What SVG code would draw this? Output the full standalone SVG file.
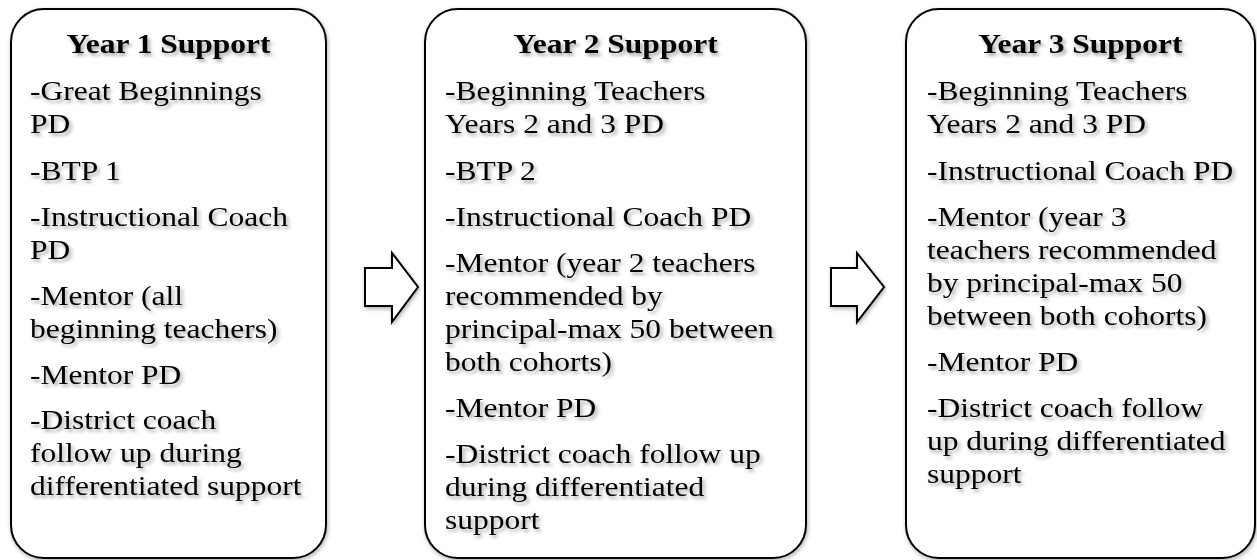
<svg xmlns="http://www.w3.org/2000/svg" width="1257" height="560" viewBox="0 0 1257 560">
<defs>
<filter id="ts" x="-10%" y="-10%" width="130%" height="140%">
<feDropShadow dx="2" dy="3" stdDeviation="1.8" flood-color="#000" flood-opacity="0.35"/>
</filter>
<filter id="bs" x="-5%" y="-5%" width="110%" height="110%">
<feDropShadow dx="1" dy="2" stdDeviation="2" flood-color="#000" flood-opacity="0.3"/>
</filter>
<style>
.box{fill:#fff;stroke:#000;stroke-width:2;}
.arrow{fill:#fff;stroke:#000;stroke-width:2;stroke-linejoin:miter;}
text{font-family:"Liberation Serif","Times New Roman",serif;font-size:28px;fill:#000;}
.title{font-weight:bold;text-anchor:middle;}
</style>
</defs>
<rect width="1257" height="560" fill="#fff"/>
<g id="connectors">
<path class="arrow" filter="url(#bs)" d="M365,268 L392,268 L392,253 L418,287 L392,322 L392,306 L365,306 Z"/>
<path class="arrow" filter="url(#bs)" d="M831,268 L857,268 L857,253 L884,287 L857,322 L857,306 L831,306 Z"/>
</g>
<g id="node-year1">
<rect class="box" filter="url(#bs)" x="11" y="9" width="315" height="549" rx="33" ry="33"/>
<g transform="translate(30 0) scale(1.125 1)" filter="url(#ts)">
<text class="title" x="123.1" y="53">Year 1 Support</text>
<text x="0" y="100">-Great Beginnings</text>
<text x="0" y="133">PD</text>
<text x="0" y="180">-BTP 1</text>
<text x="0" y="226">-Instructional Coach</text>
<text x="0" y="259">PD</text>
<text x="0" y="305">-Mentor (all</text>
<text x="0" y="338">beginning teachers)</text>
<text x="0" y="384">-Mentor PD</text>
<text x="0" y="429">-District coach</text>
<text x="0" y="462">follow up during</text>
<text x="0" y="495">differentiated support</text>
</g>
</g>
<g id="node-year2">
<rect class="box" filter="url(#bs)" x="425" y="9" width="381" height="549" rx="33" ry="33"/>
<g transform="translate(445 0) scale(1.125 1)" filter="url(#ts)">
<text class="title" x="151.6" y="53">Year 2 Support</text>
<text x="0" y="100">-Beginning Teachers</text>
<text x="0" y="133">Years 2 and 3 PD</text>
<text x="0" y="180">-BTP 2</text>
<text x="0" y="226">-Instructional Coach PD</text>
<text x="0" y="272">-Mentor (year 2 teachers</text>
<text x="0" y="305">recommended by</text>
<text x="0" y="338">principal-max 50 between</text>
<text x="0" y="371">both cohorts)</text>
<text x="0" y="417">-Mentor PD</text>
<text x="0" y="463">-District coach follow up</text>
<text x="0" y="496">during differentiated</text>
<text x="0" y="529">support</text>
</g>
</g>
<g id="node-year3">
<rect class="box" filter="url(#bs)" x="906" y="9" width="349" height="549" rx="33" ry="33"/>
<g transform="translate(927 0) scale(1.125 1)" filter="url(#ts)">
<text class="title" x="136.4" y="53">Year 3 Support</text>
<text x="0" y="100">-Beginning Teachers</text>
<text x="0" y="133">Years 2 and 3 PD</text>
<text x="0" y="180">-Instructional Coach PD</text>
<text x="0" y="226">-Mentor (year 3</text>
<text x="0" y="259">teachers recommended</text>
<text x="0" y="292">by principal-max 50</text>
<text x="0" y="325">between both cohorts)</text>
<text x="0" y="371">-Mentor PD</text>
<text x="0" y="417">-District coach follow</text>
<text x="0" y="450">up during differentiated</text>
<text x="0" y="483">support</text>
</g>
</g>
</svg>
